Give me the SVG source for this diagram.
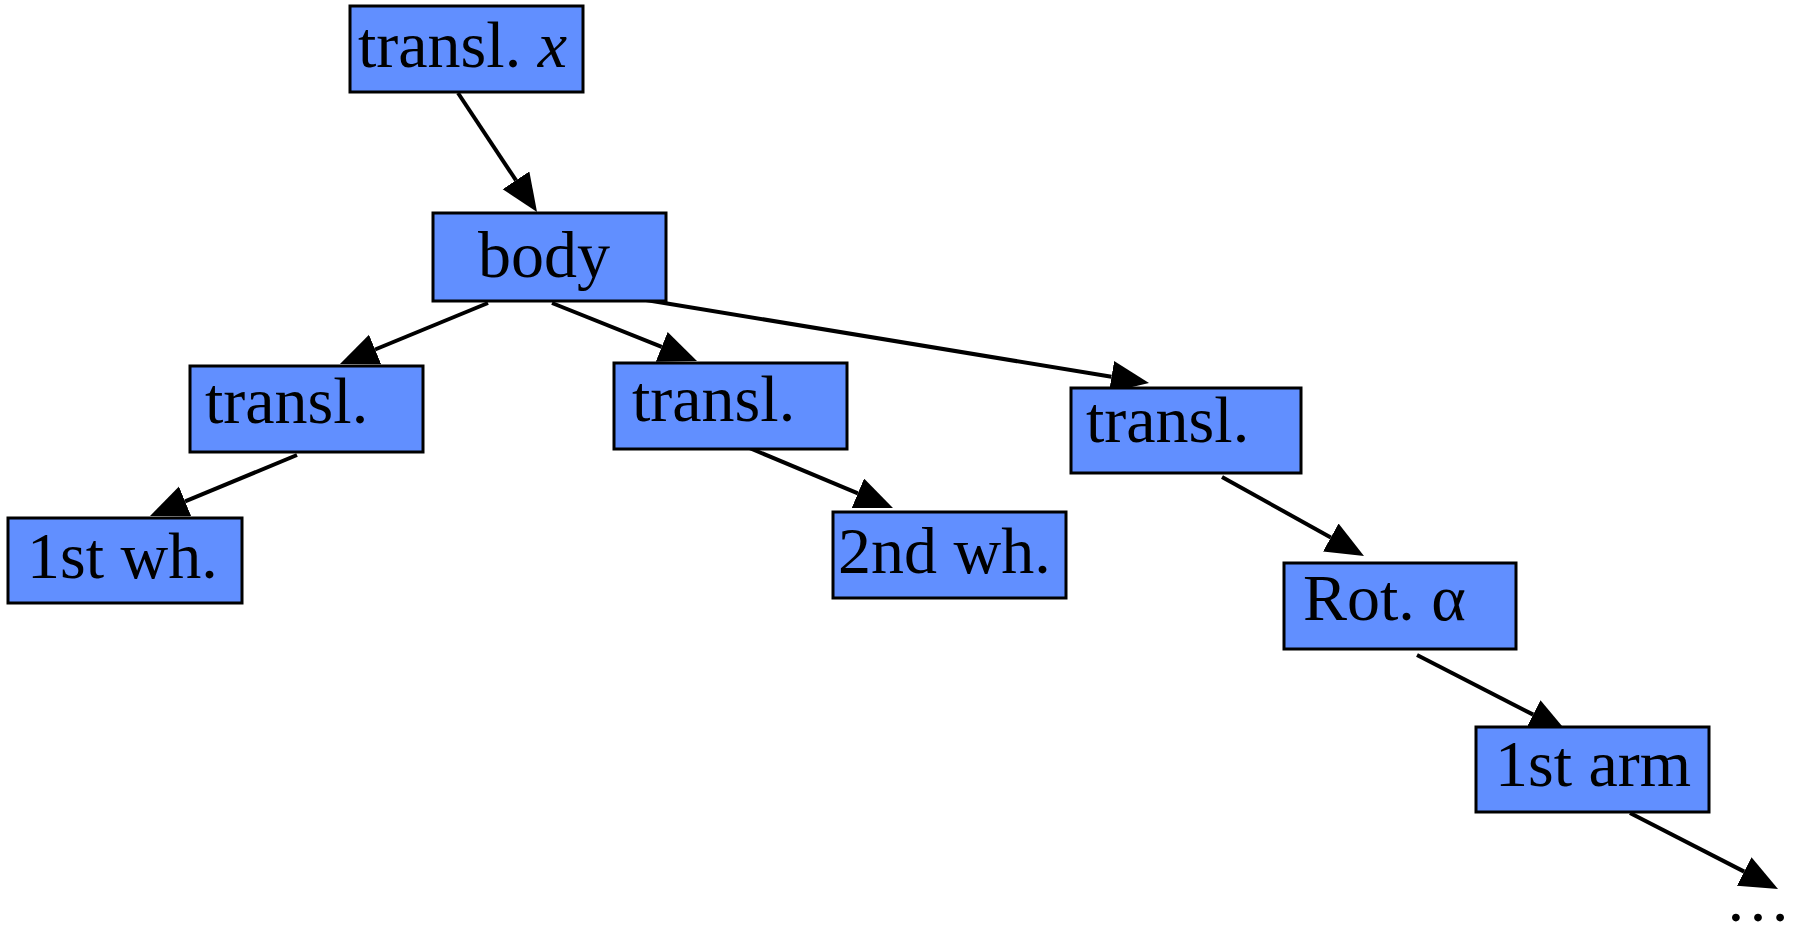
<svg xmlns="http://www.w3.org/2000/svg" width="1793" height="937" viewBox="0 0 1793 937">
<style>
.box{fill:#618fff;stroke:#000;stroke-width:3}
.lbl{font-family:"Liberation Serif","Times New Roman",serif;font-size:66px;fill:#000}
.edge{stroke:#000;stroke-width:4;fill:none}
</style>
<defs>
<marker id="ah" markerUnits="userSpaceOnUse" markerWidth="42" markerHeight="34" refX="0" refY="16" orient="auto">
<path d="M0,0 L38,16 L0,32 z" fill="#000"/>
</marker>
</defs>
<rect width="1793" height="937" fill="#fff"/>
<g id="connectors">
<line class="edge" x1="458" y1="93" x2="516" y2="180.3" marker-end="url(#ah)"/>
<line class="edge" x1="488" y1="303" x2="375.1" y2="349.5" marker-end="url(#ah)"/>
<line class="edge" x1="552" y1="303" x2="661.7" y2="346.9" marker-end="url(#ah)"/>
<line class="edge" x1="646" y1="300" x2="1111.5" y2="376.8" marker-end="url(#ah)"/>
<line class="edge" x1="297" y1="455" x2="185.1" y2="501.4" marker-end="url(#ah)"/>
<line class="edge" x1="747" y1="447" x2="857.9" y2="493.3" marker-end="url(#ah)"/>
<line class="edge" x1="1222" y1="477" x2="1330.8" y2="537.5" marker-end="url(#ah)"/>
<line class="edge" x1="1417" y1="655" x2="1533.2" y2="714.6" marker-end="url(#ah)"/>
<line class="edge" x1="1630" y1="813" x2="1744.2" y2="871.6" marker-end="url(#ah)"/>
</g>
<g id="n_translx"><rect class="box" x="350" y="6" width="233" height="86"/><text class="lbl" x="358" y="67">transl. <tspan font-style="italic">x</tspan></text></g>
<g id="n_body"><rect class="box" x="433" y="213" width="233" height="88"/><text class="lbl" x="478" y="277">body</text></g>
<g id="n_transl1"><rect class="box" x="190" y="366" width="233" height="86"/><text class="lbl" x="205" y="423">transl.</text></g>
<g id="n_transl2"><rect class="box" x="614" y="363" width="233" height="86"/><text class="lbl" x="632" y="421">transl.</text></g>
<g id="n_transl3"><rect class="box" x="1071" y="388" width="230" height="85"/><text class="lbl" x="1086" y="442">transl.</text></g>
<g id="n_wh1"><rect class="box" x="8" y="518" width="234" height="85"/><text class="lbl" x="27" y="578">1st wh.</text></g>
<g id="n_wh2"><rect class="box" x="833" y="512" width="233" height="86"/><text class="lbl" x="838" y="573">2nd wh.</text></g>
<g id="n_rot"><rect class="box" x="1284" y="563" width="232" height="86"/><text class="lbl" x="1303" y="620">Rot. α</text></g>
<g id="n_arm1"><rect class="box" x="1476" y="727" width="233" height="85"/><text class="lbl" x="1495" y="786">1st arm</text></g>
<g id="n_more"><text class="lbl" x="1725" y="921">…</text></g>
</svg>
